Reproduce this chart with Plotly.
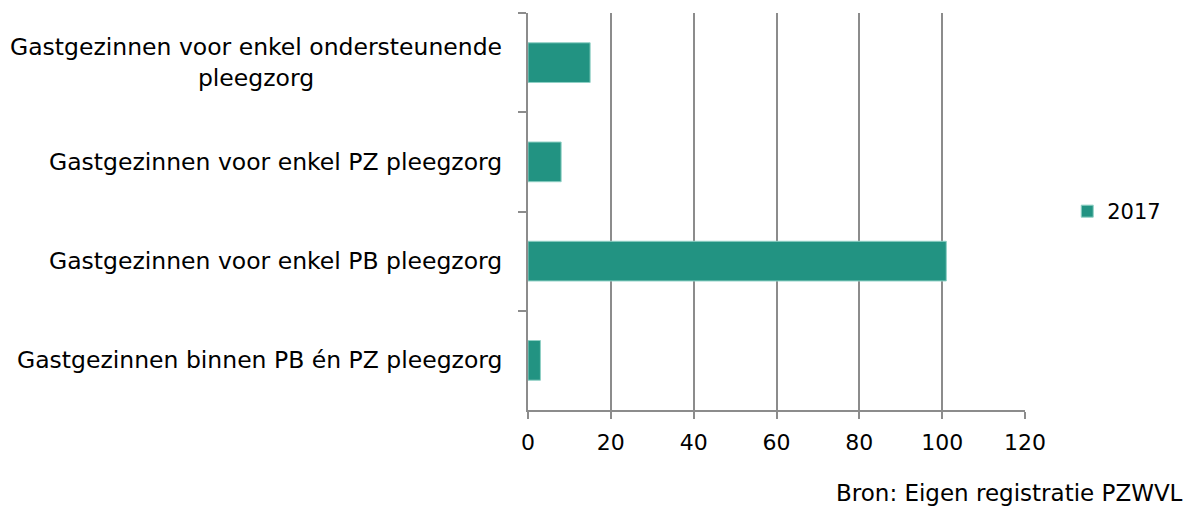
import plotly.graph_objects as go

categories = [
    "Gastgezinnen voor enkel ondersteunende<br>pleegzorg",
    "Gastgezinnen voor enkel PZ pleegzorg",
    "Gastgezinnen voor enkel PB pleegzorg",
    "Gastgezinnen binnen PB én PZ pleegzorg",
]
values_2017 = [15, 8, 101, 3]
series_name = "2017"
x_ticks = [0, 20, 40, 60, 80, 100, 120]
source_text = "Bron: Eigen registratie PZWVL"

FONT = "DejaVu Sans"
GRID = "#8c8c8c"
BAR = "#229382"

fig = go.Figure()
fig.add_trace(go.Bar(
    y=categories, x=values_2017, orientation="h", name=series_name,
    marker=dict(color=BAR, line=dict(color="#8fd0c5", width=1)),
    showlegend=True,
))

for cat in categories:
    fig.add_annotation(
        x=0, xref="paper", y=cat, yref="y", text=cat, showarrow=False,
        xanchor="right", xshift=-24, align="center",
        font=dict(family=FONT, size=23.5, color="#000"),
    )

fig.add_annotation(
    x=1, xref="paper", xanchor="right", xshift=160,
    y=0, yref="paper", yanchor="middle", yshift=-83,
    text=source_text, showarrow=False,
    font=dict(family=FONT, size=23, color="#000"),
)

fig.update_layout(
    width=1195, height=508,
    margin=dict(l=520, r=178, t=5, b=106, autoexpand=False),
    plot_bgcolor="white", paper_bgcolor="white",
    bargap=0.6,
    font=dict(family=FONT, size=20, color="#000"),
    legend=dict(x=1.085, y=0.5, xanchor="left", yanchor="middle",
                font=dict(family=FONT, size=21), itemwidth=30),
    xaxis=dict(
        range=[0, 120], tickvals=x_ticks, showgrid=True, gridcolor=GRID, gridwidth=2,
        showline=True, linecolor=GRID, linewidth=2, ticks="outside", ticklen=7,
        tickcolor=GRID, tickwidth=2, zeroline=False, automargin=False,
        tickfont=dict(family=FONT, size=22), ticklabelstandoff=5,
    ),
    yaxis=dict(
        autorange="reversed", showticklabels=False, tickson="boundaries",
        ticks="outside", ticklen=8, tickcolor=GRID, tickwidth=2, automargin=False,
        showline=True, linecolor=GRID, linewidth=2, showgrid=False,
    ),
)

fig.write_html("out.html")
